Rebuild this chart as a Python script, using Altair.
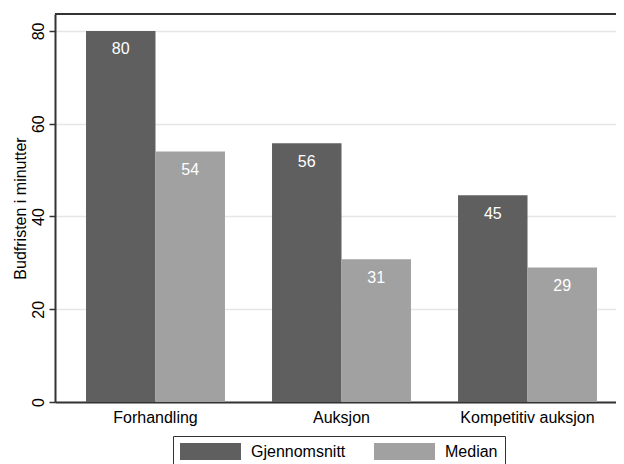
import altair as alt
import pandas as pd

# Data
categories = ["Forhandling", "Auksjon", "Kompetitiv auksjon"]
series = ["Gjennomsnitt", "Median"]
gjennomsnitt = [80.0, 55.8, 44.6]
median = [54.0, 30.8, 29.0]
y_ticks = [0, 20, 40, 60, 80]
y_title = "Budfristen i minutter"
colors = ["#5f5f5f", "#a1a1a1"]

rows = []
for i, c in enumerate(categories):
    rows.append({"kategori": c, "serie": series[0], "verdi": gjennomsnitt[i]})
    rows.append({"kategori": c, "serie": series[1], "verdi": median[i]})
df = pd.DataFrame(rows)

FONT = "Liberation Sans"
DARK = "#333333"

x_enc = alt.X(
    "kategori:N",
    sort=categories,
    scale=alt.Scale(range=[0, 573], paddingInner=0.253, paddingOuter=0.1667),
    axis=alt.Axis(
        title=None, labelAngle=0, ticks=False, grid=False,
        domainColor=DARK, domainWidth=2, labelFontSize=16,
        labelPadding=7, labelColor="#000000", labelFont=FONT,
    ),
)
xoff_enc = alt.XOffset("serie:N", sort=series, scale=alt.Scale(paddingInner=0, paddingOuter=0))
y_enc = alt.Y(
    "verdi:Q",
    scale=alt.Scale(domain=[0, 83.66], nice=False, zero=True),
    axis=alt.Axis(
        values=y_ticks, title=y_title, format="d",
        labelAngle=270, labelAlign="center", labelBaseline="bottom",
        labelFontSize=16, labelPadding=3, labelColor="#000000", labelFont=FONT,
        tickSize=6, tickColor=DARK, tickWidth=1.5,
        domainColor=DARK, domainWidth=2,
        grid=True, gridColor="#e6e6e6", gridWidth=1.5,
        titleFontSize=16, titleFontWeight="normal", titleColor="#000000", titleFont=FONT,
        titleAngle=270, titleAlign="center", titleBaseline="alphabetic",
        titleX=-30, titleY=194,
    ),
)

base = alt.Chart(df).encode(x=x_enc, xOffset=xoff_enc, y=y_enc)

bars = base.mark_bar().encode(
    color=alt.Color(
        "serie:N", sort=series,
        scale=alt.Scale(domain=series, range=colors),
        legend=alt.Legend(
            title=None, orient="none", legendX=118, legendY=422,
            direction="horizontal", columns=2,
            symbolType="M-1,-1L6.176,-1L6.176,1L-1,1Z", symbolSize=289,
            symbolStrokeWidth=0, symbolOpacity=1,
            labelFontSize=16, labelFont=FONT, labelColor="#000000",
            labelOffset=54, columnPadding=28, padding=7,
            strokeColor=DARK, fillColor="#ffffff",
        ),
    )
)

labels = base.mark_text(
    color="#ffffff", fontSize=16, font=FONT, baseline="alphabetic", dy=23.4
).encode(text=alt.Text("verdi:Q", format=".0f"))

top_border = alt.Chart(pd.DataFrame({"b": [0]})).mark_rule(
    color=DARK, strokeWidth=2
).encode(x=alt.value(0), x2=alt.value(600), y=alt.value(0))

chart = alt.layer(bars, labels, top_border).properties(
    width=561, height=388,
    autosize=alt.AutoSizeParams(type="none"),
    padding={"left": 47, "top": 6, "right": 0, "bottom": 62},
).configure_view(stroke=None).configure(font=FONT)

chart.save("out.html", embed_options={"renderer": "svg", "actions": False})
